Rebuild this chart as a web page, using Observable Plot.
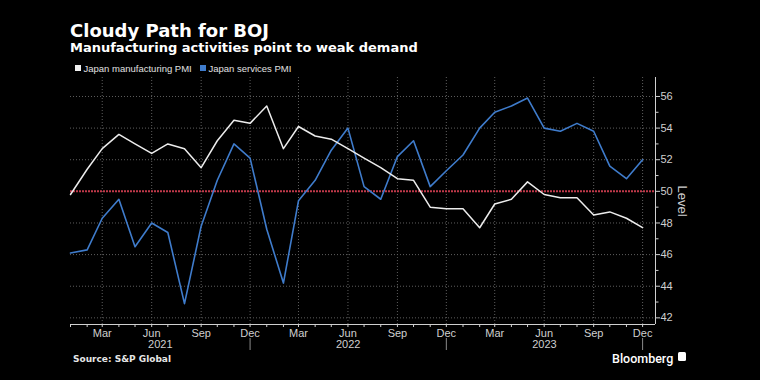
<!DOCTYPE html>
<html>
<head>
<meta charset="utf-8">
<script src="https://cdn.jsdelivr.net/npm/d3@7"></script>
<script src="https://cdn.jsdelivr.net/npm/@observablehq/plot@0.6"></script>
<style>
html, body { margin: 0; padding: 0; background: #000; }
body { width: 760px; height: 380px; position: relative; overflow: hidden; color: #fff; }
.abs { position: absolute; white-space: nowrap; line-height: 1; }
#title { left: 70px; top: 20px; font: bold 18px "DejaVu Sans"; color: #fff; }
#subtitle { left: 70px; top: 40px; font: bold 13px "DejaVu Sans"; color: #fff; }
.leg { top: 62.7px; font: 9.5px "Liberation Sans"; color: #e0e0e0; display: flex; align-items: center; }
.sw { width: 6px; height: 6px; margin-right: 2.5px; }
#chart { position: absolute; left: 0; top: 72px; }
#source { left: 73px; top: 354px; font: bold 9px "DejaVu Sans"; color: #e6e6e6; }
#brand { left: 612px; top: 350.6px; font: 500 12.5px Roboto; color: #fff; }
#logo { left: 678px; top: 352px; width: 8px; height: 8.5px; background: #fff; border-radius: 1.5px; }
</style>
</head>
<body>
<div id="title" class="abs">Cloudy Path for BOJ</div>
<div id="subtitle" class="abs">Manufacturing activities point to weak demand</div>
<div class="abs leg" style="left:75px"><span class="sw" style="background:#f0f0f0"></span>Japan manufacturing PMI</div>
<div class="abs leg" style="left:200px"><span class="sw" style="background:#3f7ccc"></span>Japan services PMI</div>
<div id="chart"></div>
<div id="source" class="abs">Source: S&amp;P Global</div>
<div id="brand" class="abs">Bloomberg</div>
<div id="logo" class="abs"></div>
<script>
const months = ["2021-01","2021-02","2021-03","2021-04","2021-05","2021-06","2021-07","2021-08","2021-09","2021-10","2021-11","2021-12",
                "2022-01","2022-02","2022-03","2022-04","2022-05","2022-06","2022-07","2022-08","2022-09","2022-10","2022-11","2022-12",
                "2023-01","2023-02","2023-03","2023-04","2023-05","2023-06","2023-07","2023-08","2023-09","2023-10","2023-11","2023-12"];
const manufacturing = [49.8,51.4,52.7,53.6,53.0,52.4,53.0,52.7,51.5,53.2,54.5,54.3,
                       55.4,52.7,54.1,53.5,53.3,52.7,52.1,51.5,50.8,50.7,49.0,48.9,
                       48.9,47.7,49.2,49.5,50.6,49.8,49.6,49.6,48.5,48.7,48.3,47.7];
const services = [46.1,46.3,48.3,49.5,46.5,48.0,47.4,42.9,47.8,50.7,53.0,52.1,
                  47.6,44.2,49.4,50.7,52.6,54.0,50.3,49.5,52.2,53.2,50.3,51.3,
                  52.3,54.0,55.0,55.4,55.9,54.0,53.8,54.3,53.8,51.6,50.8,52.0];
const yTicks = [42,44,46,48,50,52,54,56];
const yMinor = [43,45,47,49,51,53,55];
const quarterMonths = ["Mar","Jun","Sep","Dec"];
const years = ["2021","2022","2023"];
const threshold = 50;

const parse = d3.utcParse("%Y-%m");
const fmtMon = d3.utcFormat("%b");
const dates = months.map(parse);
const data = dates.map((d, i) => ({date: d, mfg: manufacturing[i], svc: services[i]}));
const xDomain = [dates[0], new Date(Date.UTC(2023, 11, 25))];
const yDomain = [41.58, 57.2];
const quarterDates = dates.filter(d => quarterMonths.includes(fmtMon(d)));
const decDates = dates.filter(d => fmtMon(d) === "Dec");
const yearLabels = years.map(y => {
  const end = parse(y + "-12");
  const prevDec = parse((+y - 1) + "-12");
  const start = prevDec < xDomain[0] ? xDomain[0] : prevDec;
  return {year: y, mid: new Date((+start + +end) / 2)};
});

const grid = {stroke: "#5e5e5e", strokeDasharray: "1,2"};
const axisColor = "#cfcfcf";

const chart = Plot.plot({
  width: 760,
  height: 282,
  marginTop: 5,
  marginBottom: 30,
  marginLeft: 70,
  marginRight: 105,
  style: {background: "transparent", color: axisColor, fontFamily: "Liberation Sans", overflow: "visible"},
  x: {type: "utc", domain: xDomain},
  y: {domain: yDomain},
  marks: [
    Plot.ruleY(yTicks, grid),
    Plot.ruleX(quarterDates, grid),
    Plot.ruleY([threshold], {stroke: "#c0394a", strokeWidth: 2, strokeDasharray: "2,1"}),
    Plot.lineY(data, {x: "date", y: "svc", stroke: "#3f7ccc", strokeWidth: 1.6}),
    Plot.lineY(data, {x: "date", y: "mfg", stroke: "#ececec", strokeWidth: 1.5}),
    Plot.ruleY([yDomain[0]], {stroke: axisColor}),
    Plot.ruleX([xDomain[1]], {stroke: axisColor}),
    Plot.axisX(dates, {anchor: "bottom", tickSize: 3, tickPadding: 1.5, fontSize: 11, color: axisColor, label: null,
      tickFormat: d => quarterMonths.includes(fmtMon(d)) ? fmtMon(d) : ""}),
    Plot.ruleX(decDates, {stroke: "#8a8a8a", insetTop: 261, insetBottom: -26}),
    Plot.text(yearLabels, {x: "mid", frameAnchor: "bottom", dy: 16, lineAnchor: "top", text: "year", fontSize: 11, fill: axisColor}),
    Plot.axisY(yTicks, {anchor: "right", tickSize: 4, tickPadding: 1, fontSize: 11, color: axisColor, label: null}),
    Plot.axisY(yMinor, {anchor: "right", tickSize: 2.5, tickFormat: () => "", color: axisColor, label: null}),
    Plot.text(["Level"], {frameAnchor: "right", dx: 27, rotate: 90, textAnchor: "middle", lineAnchor: "middle", fontSize: 13, fill: axisColor})
  ]
});
document.getElementById("chart").appendChild(chart);
</script>
</body>
</html>
